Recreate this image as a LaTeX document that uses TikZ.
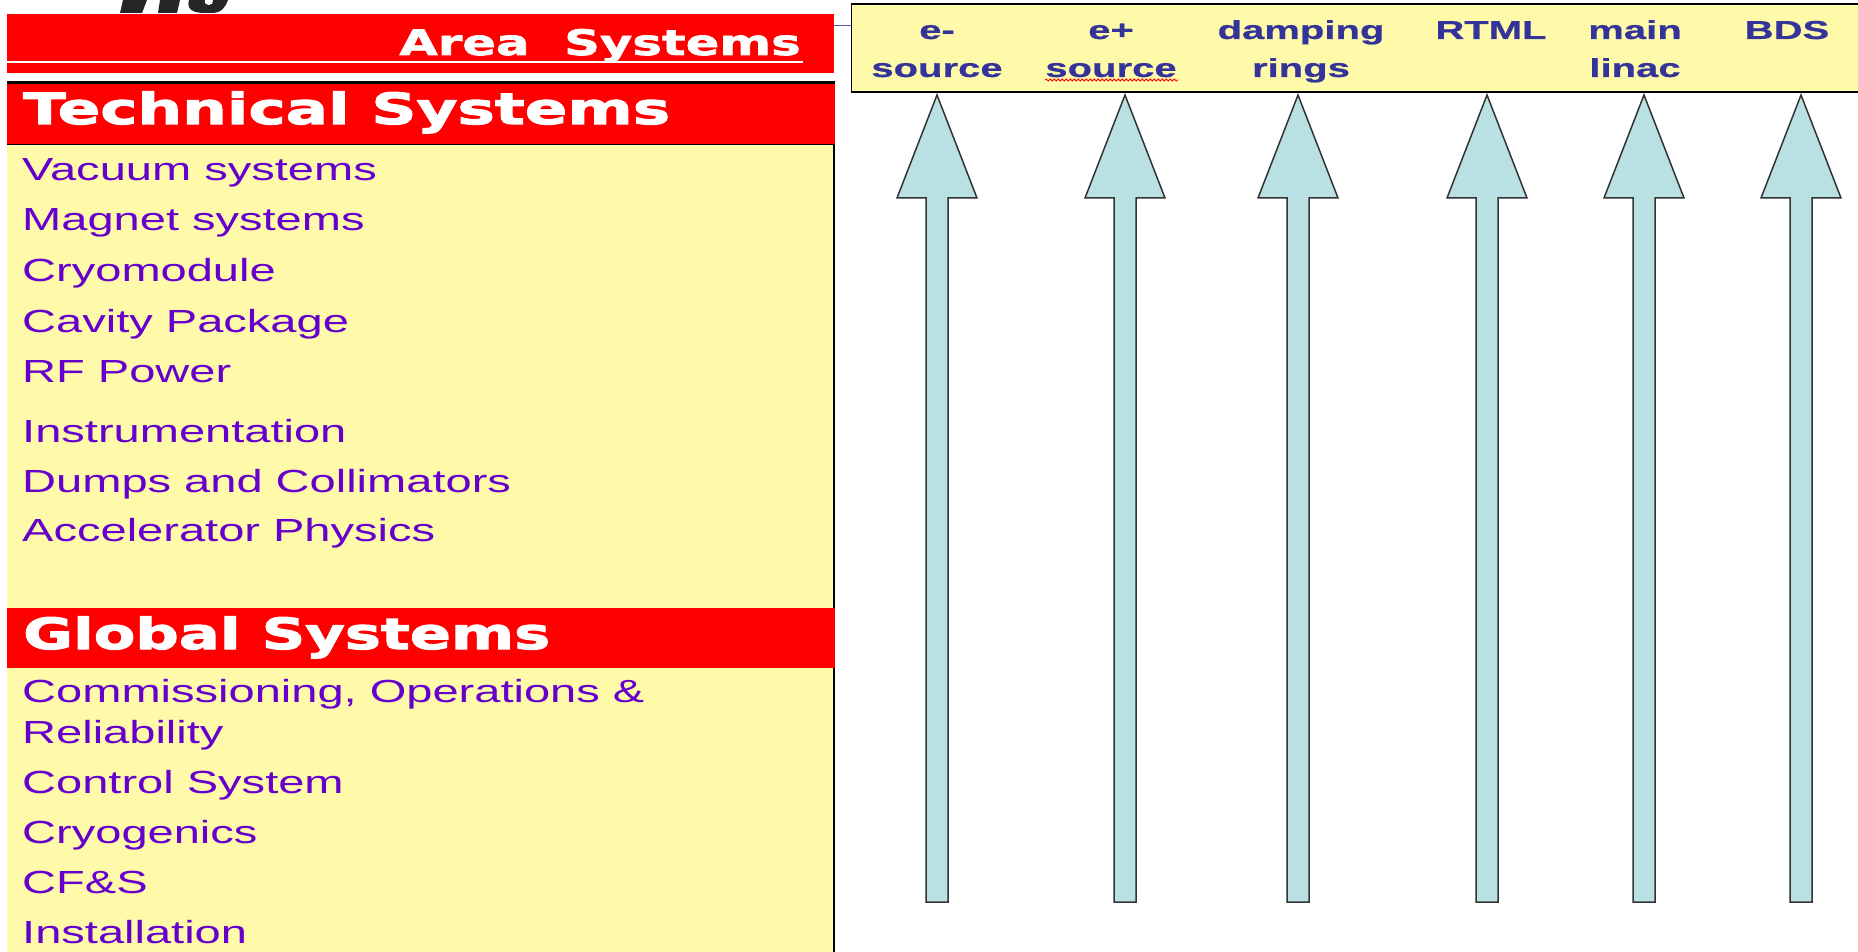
\documentclass[tikz,border=0pt]{standalone}
\usepackage{fontspec}
\setmainfont{Liberation Sans}
\newfontfamily\itemfont[FakeStretch=1.47]{Liberation Sans}
\newfontfamily\techfont[FakeStretch=1.46, FakeBold=2.6]{DejaVu Sans}
\newfontfamily\globfont[FakeStretch=1.41, FakeBold=2.6]{DejaVu Sans}
\newfontfamily\areafont[FakeStretch=1.42, FakeBold=2.0]{DejaVu Sans}
\newfontfamily\labfont[FakeStretch=1.54, FakeBold=0.6]{Liberation Sans}
\usetikzlibrary{decorations.pathmorphing}
\definecolor{panelyellow}{HTML}{FFFAAA}
\definecolor{itempurple}{HTML}{6600CC}
\definecolor{labelblue}{HTML}{333399}
\definecolor{arrowfill}{HTML}{B9E0E3}
\definecolor{arrowline}{HTML}{333333}
\definecolor{linkblue}{HTML}{5A5AB4}
\definecolor{bandred}{HTML}{FF0000}
\begin{document}
\begin{tikzpicture}[x=1pt,y=-1pt,
  item/.style={anchor=base west, inner sep=0pt, text=itempurple, font=\itemfont\fontsize{32}{38}\selectfont},
  bandtitle/.style={anchor=base west, inner sep=0pt, text=white},
  arealabel/.style={anchor=base, inner sep=0pt, text=labelblue, font=\labfont\bfseries\fontsize{26}{38}\selectfont},
  band/.style={fill=bandred, anchor=north west, inner sep=0pt, outer sep=0pt},
  blockarrow/.style={fill=arrowfill, draw=arrowline, line width=1.5pt, line join=miter}
]
\clip (0,0) rectangle (1858,952);
\fill[white] (0,0) rectangle (1858,952);

% logo fragment (cut off at the top)
\fill[black!85] (123,0) -- (147,0) -- (142,13) -- (120,13) -- cycle;
\fill[black!85] (160,0) -- (180,0) -- (177,13) -- (158,13) -- cycle;
\fill[black!85] (189,0) .. controls (186,10) and (194,13) .. (205,13) -- (212,13)
  .. controls (222,13) and (226,6) .. (228,0) -- cycle;
\fill[white] (205,0) .. controls (204,4) and (207,5) .. (209,5)
  .. controls (212,5) and (213,3) .. (213,0) -- cycle;

% Area Systems band
\node[band, minimum width=827pt, minimum height=59pt] (areaband) at (7,14) {};
\draw[white, line width=1.2pt] (7,62) -- (803,62);
\node[anchor=base east, inner sep=0pt, text=white, font=\areafont\bfseries\fontsize{35}{42}\selectfont] (areatitle) at (801,55) {Area\ \ Systems};

% left panel
\fill[panelyellow] (7,144) rectangle (834,960);
\draw[line width=1.5pt] (7,144.5) -- (834,144.5) -- (834,960);
\draw[line width=3pt] (7,83) -- (834.75,83);
\node[band, minimum width=827.5pt, minimum height=59.5pt] (techband) at (7,84.5) {};
\node[bandtitle, font=\techfont\bfseries\fontsize{43}{50}\selectfont] (techtitle) at (23,124) {Technical Systems};
\node[band, minimum width=828pt, minimum height=60pt] (globband) at (7,608) {};
\node[bandtitle, font=\globfont\bfseries\fontsize{43}{50}\selectfont] (globtitle) at (23,649) {Global Systems};

\node[item] (t1) at (22,181) {Vacuum systems};
\node[item] (t2) at (22,231) {Magnet systems};
\node[item] (t3) at (22,281) {Cryomodule};
\node[item] (t4) at (22,332) {Cavity Package};
\node[item] (t5) at (22,382) {RF Power};
\node[item] (t6) at (22,442) {Instrumentation};
\node[item] (t7) at (22,492) {Dumps and Collimators};
\node[item] (t8) at (22,541) {Accelerator Physics};

\node[item] (g1) at (22,702) {\vtop{\baselineskip=41pt\lineskiplimit=-100pt\hbox{Commissioning, Operations \&}\hbox{Reliability}}};
\node[item] (g2) at (22,793) {Control System};
\node[item] (g3) at (22,843) {Cryogenics};
\node[item] (g4) at (22,893) {CF\&S};
\node[item] (g5) at (22,943) {Installation};

% header box of area systems
\node[draw, line width=1.5pt, fill=panelyellow, anchor=north west, minimum width=1030pt, minimum height=88pt, inner sep=0pt] (hdr) at (850.75,3.5) {};
\draw[linkblue, line width=1pt] (areaband.east |- 0,26) -- (hdr.west |- 0,26);

\node[arealabel] (a1) at (937,39) {\vtop{\baselineskip=38pt\lineskiplimit=-100pt\hbox to 0pt{\hss e-\hss}\hbox to 0pt{\hss source\hss}}};
\node[arealabel] (a2) at (1111,39) {\vtop{\baselineskip=38pt\lineskiplimit=-100pt\hbox to 0pt{\hss e+\hss}\hbox to 0pt{\hss source\hss}}};
\node[arealabel] (a3) at (1301,39) {\vtop{\baselineskip=38pt\lineskiplimit=-100pt\hbox to 0pt{\hss damping\hss}\hbox to 0pt{\hss rings\hss}}};
\node[arealabel] (a4) at (1491,39) {RTML};
\node[arealabel] (a5) at (1635,39) {\vtop{\baselineskip=38pt\lineskiplimit=-100pt\hbox to 0pt{\hss main\hss}\hbox to 0pt{\hss linac\hss}}};
\node[arealabel] (a6) at (1787,39) {BDS};
\draw[red, line width=0.8pt, decorate, decoration={snake, amplitude=1.1pt, segment length=4pt}] (1045,80) -- (1178,80);

% block arrows
\foreach \ax in {937,1125,1298,1487,1644,1801}{
  \draw[blockarrow] (\ax,95) -- (\ax+40,198) -- (\ax+11,198) -- (\ax+11,902)
    -- (\ax-11,902) -- (\ax-11,198) -- (\ax-40,198) -- cycle;
}
\end{tikzpicture}
\end{document}
